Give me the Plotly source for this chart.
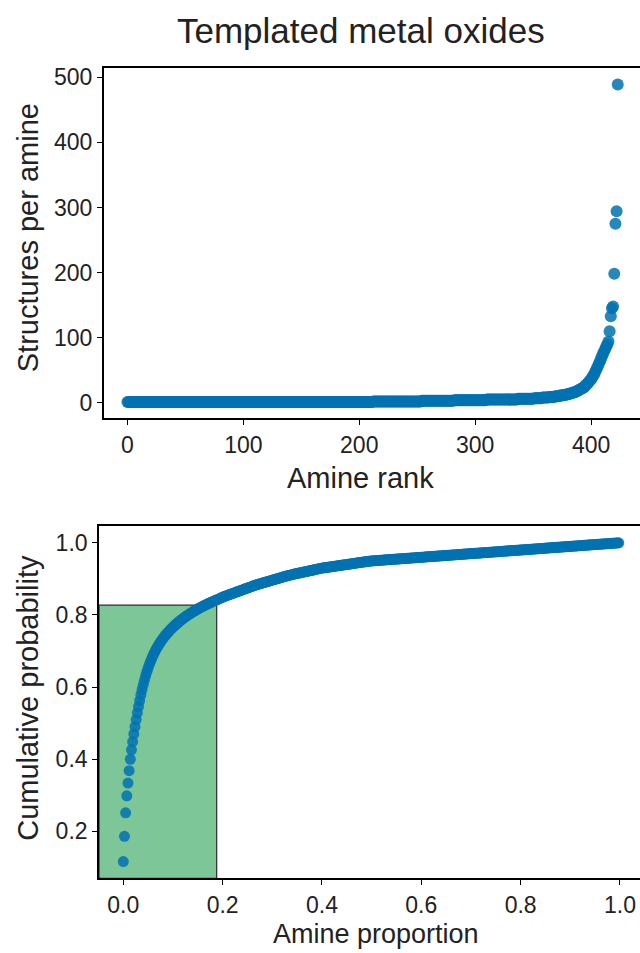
import numpy as np
import plotly.graph_objects as go

# ---- data (structures per amine) ----
# small values given as (value, number of amines) pairs, ascending
small_values = [1, 2, 3, 4, 5, 6, 7, 8, 9, 10, 11, 12, 13, 14, 15, 16]
small_counts = [212, 42, 28, 28, 27, 14, 7, 6, 5, 4, 3, 3, 2, 2, 2, 2]
# largest amines, ascending
large_values = [17, 18, 19, 20, 21, 22, 23, 24, 26, 28, 30, 32, 34, 36, 39, 42,
                45, 49, 53, 57, 61, 65, 70, 74, 78, 82, 86, 90, 94, 110, 133,
                145, 148, 198, 275, 294, 489]

title_text = "Templated metal oxides"
top_xticks = [0, 100, 200, 300, 400]
top_yticks = [0, 100, 200, 300, 400, 500]
bot_xticks = [0.0, 0.2, 0.4, 0.6, 0.8, 1.0]
bot_yticks = [0.2, 0.4, 0.6, 0.8, 1.0]
highlight_x = 0.188   # proportion of amines in the shaded box
highlight_y = 0.827   # cumulative probability of the shaded box

# ---- derived series ----
per_amine = []
for v, c in zip(small_values, small_counts):
    per_amine += [v] * c
per_amine += large_values
per_amine = np.array(per_amine, dtype=float)
rank = np.arange(len(per_amine))

desc = np.sort(per_amine)[::-1]
cum_prob = np.cumsum(desc) / desc.sum()
proportion = np.arange(len(desc)) / len(desc)

W, H = 640, 953
FONT = "Liberation Sans, Arial, sans-serif"
BLUE = "#0072B2"

def px_x(p):
    return p / W

def px_y(p):
    return 1 - p / H

fig = go.Figure()
fig.add_trace(go.Scatter(x=rank, y=per_amine, mode="markers",
                         marker=dict(color=BLUE, size=12, opacity=0.85, line=dict(width=0)),
                         xaxis="x", yaxis="y", showlegend=False, hoverinfo="skip"))
fig.add_trace(go.Scatter(x=proportion, y=cum_prob, mode="markers",
                         marker=dict(color=BLUE, size=11, opacity=0.85, line=dict(width=0)),
                         xaxis="x2", yaxis="y2", showlegend=False, hoverinfo="skip"))

# axis geometry (pixels measured on reference)
top_l, top_t, top_b = 103.7, 65, 416.5
bot_l, bot_t, bot_b = 99, 525, 878

top_xr = [-20.5, 442.2]
top_yr = [-23.7, 514.5]
bot_xr = [-0.0489, 1.0403]
bot_yr = [0.0701, 1.0456]

axis_common = dict(showgrid=False, zeroline=False, showline=True, linecolor="black",
                   linewidth=1.6, ticks="outside", ticklen=5, tickwidth=1.3,
                   tickcolor="black", tickfont=dict(family=FONT, size=23, color="#222"))

fig.update_layout(
    width=W, height=H, margin=dict(l=0, r=0, t=0, b=0),
    paper_bgcolor="white", plot_bgcolor="white",
    xaxis=dict(domain=[px_x(top_l), 1], range=top_xr, anchor="y", mirror=True,
               tickvals=top_xticks, ticktext=[str(v) for v in top_xticks], **axis_common),
    yaxis=dict(domain=[px_y(top_b), px_y(top_t)], range=top_yr, anchor="x",
               tickvals=top_yticks, ticktext=[str(v) for v in top_yticks], **axis_common),
    xaxis2=dict(domain=[px_x(bot_l), 1], range=bot_xr, anchor="y2", mirror=True,
                tickvals=bot_xticks, ticktext=[f"{v:.1f}" for v in bot_xticks], **axis_common),
    yaxis2=dict(domain=[px_y(bot_b), px_y(bot_t)], range=bot_yr, anchor="x2",
                tickvals=bot_yticks, ticktext=[f"{v:.1f}" for v in bot_yticks], **axis_common),
)

fig.add_shape(type="rect", xref="x2", yref="y2", x0=bot_xr[0], x1=highlight_x,
              y0=bot_yr[0], y1=highlight_y, fillcolor="#7DC697",
              line=dict(color="#2b2b2b", width=1.2), layer="below")

def label(text, x, y, size, angle=0):
    fig.add_annotation(text=text, x=px_x(x), y=px_y(y), xref="paper", yref="paper",
                       showarrow=False, textangle=angle, xanchor="center", yanchor="middle",
                       font=dict(family=FONT, size=size, color="#222"))

label(title_text, 360.5, 28, 35)
label("Structures per amine", 28, 236, 29, -90)
label("Amine rank", 360, 477, 29)
label("Cumulative probability", 28, 697, 29, -90)
label("Amine proportion", 376, 934, 27)

fig.write_html("out.html")
